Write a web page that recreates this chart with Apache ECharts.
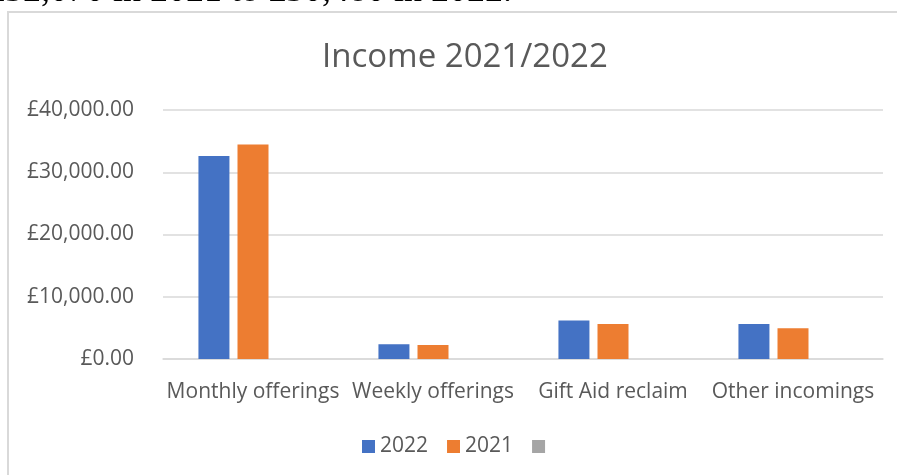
<!DOCTYPE html>
<html>
<head>
<meta charset="utf-8">
<title>Income 2021/2022</title>
<script src="https://cdn.jsdelivr.net/npm/echarts@6/dist/echarts.min.js"></script>
<style>
    html, body {margin: 0; padding: 0; background: #fff; overflow: hidden;}
    #charts {width: 897px; height: 475px;}
</style>
</head>
<body>
<div id="charts"></div>
<script>
// data
var categories = ['Monthly offerings', 'Weekly offerings', 'Gift Aid reclaim', 'Other incomings'];
var income2022 = [32600, 2370, 6170, 5640];
var income2021 = [34450, 2250, 5640, 4940];
var incomeBlank = ['-', '-', '-', '-'];
var yTicks = [0, 10000, 20000, 30000, 40000];

function money(v) {
    //£40,000.00
    var s = Math.round(v).toString().replace(/\B(?=(\d{3})+(?!\d))/g, ',');
    return '£' + s + '.00';
}

var myChart = echarts.init(document.getElementById('charts'));
var labelColor = '#595959';
var font = '"Open Sans", sans-serif';

myChart.setOption({
    backgroundColor: '#fff',
    animation: false,
    color: ['#4472C4', '#ED7D31', '#A5A5A5'],
    title: {
        text: 'Income 2021/2022',
        left: 317,
        top: 36,
        textStyle: {color: labelColor, fontSize: 33, fontWeight: 'normal', fontFamily: font}
    },
    graphic: [
        //the frame round the chart, running off right and bottom
        {
            type: 'rect',
            shape: {x: 8, y: 12, width: 1000, height: 600},
            style: {fill: 'none', stroke: '#d9d9d9', lineWidth: 2},
            silent: true
        },
        //text from the page above, cut off
        {
            type: 'text',
            left: -13,
            top: -26,
            style: {
                text: '£32,070 in 2021 to £30,480 in 2022.',
                font: '36px "Liberation Serif", serif',
                fill: '#000'
            },
            silent: true
        }
    ],
    legend: {
        data: ['2022', '2021', ' '],
        left: 357,
        top: 431,
        icon: 'rect',
        itemWidth: 13,
        itemHeight: 13,
        itemGap: 19,
        textStyle: {color: labelColor, fontSize: 21, fontFamily: font}
    },
    grid: {left: 163, right: 14, top: 110, bottom: 116},
    xAxis: {
        type: 'category',
        data: categories,
        axisLine: {lineStyle: {color: '#d9d9d9', width: 1.5}},
        axisTick: {show: false},
        axisLabel: {color: labelColor, fontSize: 21, fontFamily: font, margin: 23, interval: 0}
    },
    yAxis: {
        type: 'value',
        min: yTicks[0],
        max: yTicks[yTicks.length - 1],
        interval: yTicks[1] - yTicks[0],
        axisLine: {show: false},
        axisTick: {show: false},
        splitLine: {lineStyle: {color: '#d9d9d9', width: 1.5}},
        axisLabel: {color: labelColor, fontSize: 21, fontFamily: font, margin: 29, formatter: money}
    },
    series: [
        {name: '2022', type: 'bar', data: income2022, barWidth: 31, barGap: '26%'},
        {name: '2021', type: 'bar', data: income2021, barWidth: 31, barGap: '26%'},
        {name: ' ', type: 'bar', data: incomeBlank, barWidth: 31, barGap: '26%'}
    ]
});
</script>
</body>
</html>
